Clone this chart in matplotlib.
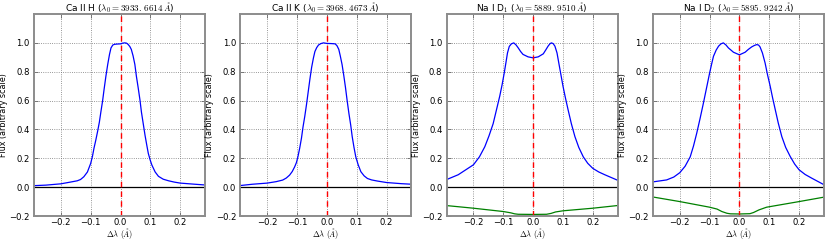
import matplotlib
matplotlib.use("Agg")
import matplotlib.pyplot as plt

plt.rcParams['mathtext.fontset'] = 'cm'
plt.rcParams['font.family'] = ['DejaVu Sans']

titles = [r'Ca II H ($\lambda_0 = 3933.\,6614\ \AA$)',
          r'Ca II K ($\lambda_0 = 3968.\,4673\ \AA$)',
          r'Na I D$_1$ ($\lambda_0 = 5889.\,9510\ \AA$)',
          r'Na I D$_2$ ($\lambda_0 = 5895.\,9242\ \AA$)']

# Ca II H
cah_x = [-0.293, -0.25, -0.2, -0.168, -0.145, -0.134, -0.123, -0.111, -0.1, -0.094,
         -0.089, -0.083, -0.077, -0.071, -0.066, -0.060, -0.055, -0.049, -0.043, -0.037,
         -0.032, -0.026, -0.02, -0.01, 0.0, 0.007, 0.014, 0.02, 0.025, 0.031,
         0.036, 0.042, 0.048, 0.053, 0.059, 0.065, 0.07, 0.076, 0.082, 0.088,
         0.093, 0.099, 0.105, 0.116, 0.127, 0.143, 0.161, 0.18, 0.2, 0.25, 0.29]
cah_y = [0.010, 0.014, 0.023, 0.035, 0.044, 0.053, 0.072, 0.105, 0.165, 0.215,
         0.27, 0.325, 0.385, 0.45, 0.52, 0.60, 0.68, 0.77, 0.85, 0.92,
         0.965, 0.985, 0.99, 0.992, 0.993, 0.998, 1.0, 0.998, 0.99, 0.975,
         0.955, 0.91, 0.85, 0.77, 0.69, 0.605, 0.52, 0.44, 0.36, 0.29,
         0.234, 0.19, 0.153, 0.105, 0.075, 0.055, 0.044, 0.035, 0.028, 0.02, 0.014]

# Ca II K
cak_x = [-0.295, -0.25, -0.2, -0.17, -0.148, -0.136, -0.125, -0.116, -0.108, -0.102,
         -0.097, -0.091, -0.085, -0.080, -0.074, -0.068, -0.0625, -0.057, -0.051, -0.045,
         -0.04, -0.034, -0.028, -0.02, -0.011, 0.0, 0.015, 0.028, 0.034, 0.04,
         0.045, 0.051, 0.057, 0.0625, 0.068, 0.074, 0.080, 0.085, 0.091, 0.097,
         0.105, 0.114, 0.125, 0.136, 0.15, 0.17, 0.2, 0.25, 0.295]
cak_y = [0.010, 0.020, 0.028, 0.038, 0.049, 0.063, 0.083, 0.108, 0.14, 0.17,
         0.21, 0.27, 0.34, 0.415, 0.49, 0.575, 0.66, 0.745, 0.83, 0.895,
         0.94, 0.967, 0.985, 0.995, 1.0, 0.996, 0.995, 0.993, 0.98, 0.955,
         0.91, 0.85, 0.77, 0.69, 0.60, 0.51, 0.43, 0.35, 0.275, 0.21,
         0.155, 0.107, 0.078, 0.06, 0.05, 0.042, 0.032, 0.024, 0.019]

# Na I D1
nad1_x = [-0.294, -0.251, -0.2, -0.18, -0.162, -0.148, -0.134, -0.123, -0.112, -0.104,
          -0.097, -0.091, -0.086, -0.08, -0.073, -0.065, -0.057, -0.05, -0.042, -0.034,
          -0.017, 0.0, 0.017, 0.034, 0.042, 0.05, 0.056, 0.061, 0.067, 0.073,
          0.08, 0.086, 0.093, 0.1, 0.108, 0.117, 0.128, 0.14, 0.153, 0.168,
          0.183, 0.2, 0.22, 0.24, 0.285]
nad1_y = [0.049, 0.086, 0.155, 0.21, 0.28, 0.355, 0.44, 0.535, 0.63, 0.71,
          0.79, 0.865, 0.93, 0.975, 0.993, 1.0, 0.985, 0.965, 0.94, 0.92,
          0.903, 0.896, 0.903, 0.924, 0.95, 0.977, 0.993, 1.0, 0.995, 0.977,
          0.93, 0.86, 0.78, 0.70, 0.62, 0.537, 0.44, 0.35, 0.275, 0.21,
          0.165, 0.13, 0.105, 0.086, 0.046]

# Na I D2
nad2_x = [-0.288, -0.244, -0.22, -0.2, -0.182, -0.165, -0.154, -0.143, -0.132, -0.121,
          -0.11, -0.1, -0.093, -0.087, -0.078, -0.07, -0.062, -0.054, -0.045, -0.037,
          -0.02, 0.0, 0.019, 0.03, 0.041, 0.05, 0.058, 0.064, 0.069, 0.077,
          0.086, 0.094, 0.103, 0.111, 0.12, 0.13, 0.142, 0.155, 0.17, 0.185,
          0.2, 0.22, 0.242, 0.284]
nad2_y = [0.037, 0.05, 0.07, 0.10, 0.145, 0.21, 0.285, 0.375, 0.475, 0.58,
          0.69, 0.79, 0.855, 0.907, 0.95, 0.977, 0.993, 1.0, 0.985, 0.965,
          0.935, 0.917, 0.935, 0.955, 0.972, 0.982, 0.988, 0.985, 0.972, 0.93,
          0.86, 0.78, 0.70, 0.62, 0.537, 0.445, 0.35, 0.275, 0.213, 0.16,
          0.12, 0.088, 0.0625, 0.016]

# lower (green) curves
cah_gx = [-0.295, 0.0, 0.295]
cah_gy = [-0.199, -0.199, -0.199]
cak_gx = [-0.295, 0.0, 0.295]
cak_gy = [-0.199, -0.199, -0.199]
nad1_gx = [-0.294, -0.2, -0.1, -0.075, -0.062, -0.05, 0.0, 0.045, 0.06, 0.075, 0.1, 0.2, 0.285]
nad1_gy = [-0.127, -0.146, -0.169, -0.178, -0.185, -0.188, -0.189, -0.188, -0.182, -0.172,
           -0.164, -0.146, -0.127]
nad2_gx = [-0.288, -0.2, -0.1, -0.075, -0.059, -0.042, -0.03, 0.0, 0.035, 0.047, 0.065,
           0.091, 0.2, 0.284]
nad2_gy = [-0.069, -0.100, -0.139, -0.152, -0.169, -0.181, -0.185, -0.186, -0.184, -0.176,
           -0.158, -0.139, -0.100, -0.069]

blue_x = [cah_x, cak_x, nad1_x, nad2_x]
blue_y = [cah_y, cak_y, nad1_y, nad2_y]
green_x = [cah_gx, cak_gx, nad1_gx, nad2_gx]
green_y = [cah_gy, cak_gy, nad1_gy, nad2_gy]

xticks = [-0.2, -0.1, 0.0, 0.1, 0.2]
yticks = [-0.2, 0.0, 0.2, 0.4, 0.6, 0.8, 1.0]

fig = plt.figure(figsize=(8.31, 2.41), dpi=100)
W, H = 831, 241
for i in range(4):
    left = 34 + 206.3 * i
    ax = fig.add_axes([left / W, 25 / H, 171 / W, 202 / H])
    ax.plot(blue_x[i], blue_y[i], color='b', lw=0.9)
    ax.plot(green_x[i], green_y[i], color='g', lw=0.9)
    ax.axhline(0, color='k', lw=0.9)
    ax.axvline(0, color='r', ls='--', lw=1.0, dashes=(4, 3))
    ax.set_xlim(-0.29, 0.283)
    ax.set_ylim(-0.2, 1.2)
    ax.set_xticks(xticks)
    ax.set_yticks(yticks)
    ax.grid(True, color='#777777', ls=':', lw=0.6)
    for s in ax.spines.values():
        s.set_color('0.55')
        s.set_linewidth(1.4)
    ax.tick_params(direction='in', top=True, right=True, length=3, width=0.6,
                   color='0.4', labelsize=6.1)
    ax.tick_params(axis='x', pad=1.5)
    ax.tick_params(axis='y', pad=3)
    ax.set_title(titles[i], fontsize=6.5, pad=2)
    ax.set_xlabel(r'$\Delta\lambda\ (\AA)$', fontsize=6, labelpad=-0.5)
    ax.set_ylabel('Flux (arbitrary scale)', fontsize=5.8, labelpad=1)

fig.savefig('out.png', dpi=100)
